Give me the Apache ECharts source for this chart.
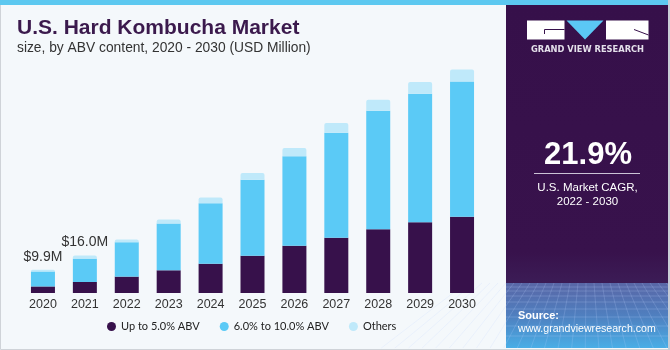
<!DOCTYPE html>
<html>
<head>
<meta charset="utf-8">
<script src="https://cdn.jsdelivr.net/npm/echarts@6/dist/echarts.min.js"></script>
<style>
  html, body { margin: 0; padding: 0; background: #f4f8fb; }
  #chart { width: 670px; height: 350px; }
</style>
</head>
<body>
<div id="chart"></div>
<script>
// U.S. hard kombucha market size by ABV content (USD Million)
const years = ['2020', '2021', '2022', '2023', '2024', '2025', '2026', '2027', '2028', '2029', '2030'];
const upTo5 = [2.8, 4.7, 7.0, 9.7, 12.5, 15.9, 20.2, 23.6, 27.2, 30.2, 32.6];
const from6to10 = [6.4, 10.0, 14.7, 20.0, 25.9, 32.5, 38.2, 44.9, 50.7, 54.9, 57.8];
const others = [0.7, 1.3, 1.2, 1.7, 2.4, 2.9, 3.6, 4.1, 4.7, 5.1, 5.1];
const labelledYears = 2; // value labels on the first two bars
const seriesNames = ['Up to 5.0% ABV', '6.0% to 10.0% ABV', 'Others'];

const totals = years.map((_, i) => +(upTo5[i] + from6to10[i] + others[i]).toFixed(1));

const DARK = '#37114b';
const BLUE = '#5bcaf6';
const PALE = '#bfe9fa';

const chart = echarts.init(document.getElementById('chart'), null, { renderer: 'canvas' });

// decorative perspective mesh at the bottom of the side panel
const meshLines = [];
const meshTop = 283, meshBottom = 348, px0 = 506, px1 = 668, vx = 587;
[287, 291, 296, 302, 309, 317, 326, 336].forEach(y => {
  meshLines.push({
    type: 'line', silent: true,
    shape: { x1: px0, y1: y, x2: px1, y2: y },
    style: { stroke: 'rgba(190,210,255,0.3)', lineWidth: 0.8 }
  });
});
for (let x = px0 - 40; x <= px1 + 40; x += 8) {
  const xb = vx + (x - vx) * 1.7;
  meshLines.push({
    type: 'line', silent: true,
    shape: { x1: x, y1: meshTop, x2: xb, y2: meshBottom },
    style: { stroke: 'rgba(190,210,255,0.25)', lineWidth: 0.8 }
  });
}

const option = {
  backgroundColor: '#f4f8fb',
  animation: false,
  grid: { left: 22, right: 187, top: 59, bottom: 57, containLabel: false },
  xAxis: {
    type: 'category',
    data: years,
    axisLine: { show: false },
    axisTick: { show: false },
    axisLabel: { color: '#333', fontSize: 12.5, fontFamily: 'Liberation Sans, Arial, sans-serif', margin: 5 }
  },
  yAxis: { type: 'value', min: 0, max: 100, show: false, splitLine: { show: false } },
  legend: {
    data: seriesNames,
    left: 102,
    top: 316,
    icon: 'circle',
    itemWidth: 9,
    itemHeight: 9,
    itemGap: 20,
    textStyle: { color: '#222', fontSize: 11, fontFamily: 'Lato, sans-serif' }
  },
  series: [
    {
      name: seriesNames[0], type: 'bar', stack: 'abv', barWidth: 24,
      itemStyle: { color: DARK },
      data: upTo5
    },
    {
      name: seriesNames[1], type: 'bar', stack: 'abv', barWidth: 24,
      itemStyle: { color: BLUE },
      data: from6to10
    },
    {
      name: seriesNames[2], type: 'bar', stack: 'abv', barWidth: 24,
      itemStyle: { color: PALE, borderRadius: [2, 2, 0, 0] },
      label: {
        position: 'top', distance: 6,
        color: '#333', fontSize: 14, fontFamily: 'Liberation Sans, Arial, sans-serif',
        formatter: p => '$' + totals[p.dataIndex].toFixed(1) + 'M'
      },
      data: others.map((v, i) => i < labelledYears ? { value: v, label: { show: true } } : v)
    }
  ],
  graphic: [
    // frame and top strip
    { type: 'rect', silent: true, z: -10, shape: { x: 0.5, y: 0.5, width: 669, height: 349 },
      style: { fill: 'none', stroke: '#cfd3d8', lineWidth: 1 } },
    { type: 'rect', silent: true, shape: { x: 0, y: 0, width: 670, height: 5 }, style: { fill: '#5cc8f0' } },

    // side panel
    { type: 'rect', silent: true, shape: { x: 506, y: 5, width: 162, height: 343 },
      style: { fill: new echarts.graphic.LinearGradient(0, 0, 0, 1, [
        { offset: 0, color: '#36104a' },
        { offset: 0.72, color: '#38124c' },
        { offset: 1, color: '#43316b' }
      ]) } },
    { type: 'rect', silent: true, shape: { x: 506, y: meshTop, width: 162, height: meshBottom - meshTop },
      style: { fill: new echarts.graphic.LinearGradient(0, 0, 0, 1, [
        { offset: 0, color: '#5966a6' },
        { offset: 0.5, color: '#4f7fbf' },
        { offset: 1, color: '#49aee6' }
      ]) } },
    ...meshLines,
    { type: 'rect', silent: true, shape: { x: 668, y: 0, width: 2, height: 350 }, style: { fill: '#c9cdd6' } },

    // logo
    { type: 'rect', silent: true, shape: { x: 527, y: 20.5, width: 37.5, height: 19 }, style: { fill: '#ffffff' } },
    { type: 'polyline', silent: true, shape: { points: [[564.5, 29.5], [544.5, 29.5], [544.5, 34]] },
      style: { stroke: DARK, lineWidth: 1, fill: 'none' } },
    { type: 'polygon', silent: true, shape: { points: [[566.5, 20.5], [603.5, 20.5], [585, 39.5]] },
      style: { fill: '#5bc8f5' } },
    { type: 'rect', silent: true, shape: { x: 606, y: 20.5, width: 42.5, height: 19 }, style: { fill: '#ffffff' } },
    { type: 'polyline', silent: true, shape: { points: [[634, 29.5], [648.5, 35]] },
      style: { stroke: DARK, lineWidth: 1, fill: 'none' } },
    { type: 'text', silent: true, style: { x: 587.5, y: 49.5, text: 'GRAND VIEW RESEARCH',
      fill: '#e4e0ea', font: 'bold 8.3px "DejaVu Sans", sans-serif', align: 'center', verticalAlign: 'middle' } },

    // CAGR block
    { type: 'text', silent: true, style: { x: 588, y: 155, text: '21.9%',
      fill: '#ffffff', font: 'bold 31px "Liberation Sans", Arial, sans-serif', align: 'center', verticalAlign: 'middle' } },
    { type: 'line', silent: true, shape: { x1: 534, y1: 173.5, x2: 640, y2: 173.5 },
      style: { stroke: '#cbc3d6', lineWidth: 1 } },
    { type: 'text', silent: true, style: { x: 587.5, y: 187.5, text: 'U.S. Market CAGR,',
      fill: '#ffffff', font: '11.5px "Liberation Sans", Arial, sans-serif', align: 'center', verticalAlign: 'middle' } },
    { type: 'text', silent: true, style: { x: 587.5, y: 201.5, text: '2022 - 2030',
      fill: '#ffffff', font: '11.5px "Liberation Sans", Arial, sans-serif', align: 'center', verticalAlign: 'middle' } },

    // source
    { type: 'text', silent: true, style: { x: 518, y: 316, text: 'Source:',
      fill: '#ffffff', font: 'bold 11px "Liberation Sans", Arial, sans-serif', align: 'left', verticalAlign: 'middle' } },
    { type: 'text', silent: true, style: { x: 518, y: 329.5, text: 'www.grandviewresearch.com',
      fill: '#ffffff', font: '10.6px "Liberation Sans", Arial, sans-serif', align: 'left', verticalAlign: 'middle' } },

    // titles
    { type: 'text', silent: true, style: { x: 17, y: 28.5, text: 'U.S. Hard Kombucha Market',
      fill: '#3b1a4d', font: 'bold 21px "Liberation Sans", Arial, sans-serif', align: 'left', verticalAlign: 'middle' } },
    { type: 'text', silent: true, style: { x: 17, y: 48.5, text: 'size, by ABV content, 2020 - 2030 (USD Million)',
      fill: '#333333', font: '13.8px "Liberation Sans", Arial, sans-serif', align: 'left', verticalAlign: 'middle' } }
  ]
};

chart.setOption(option);
</script>
</body>
</html>
